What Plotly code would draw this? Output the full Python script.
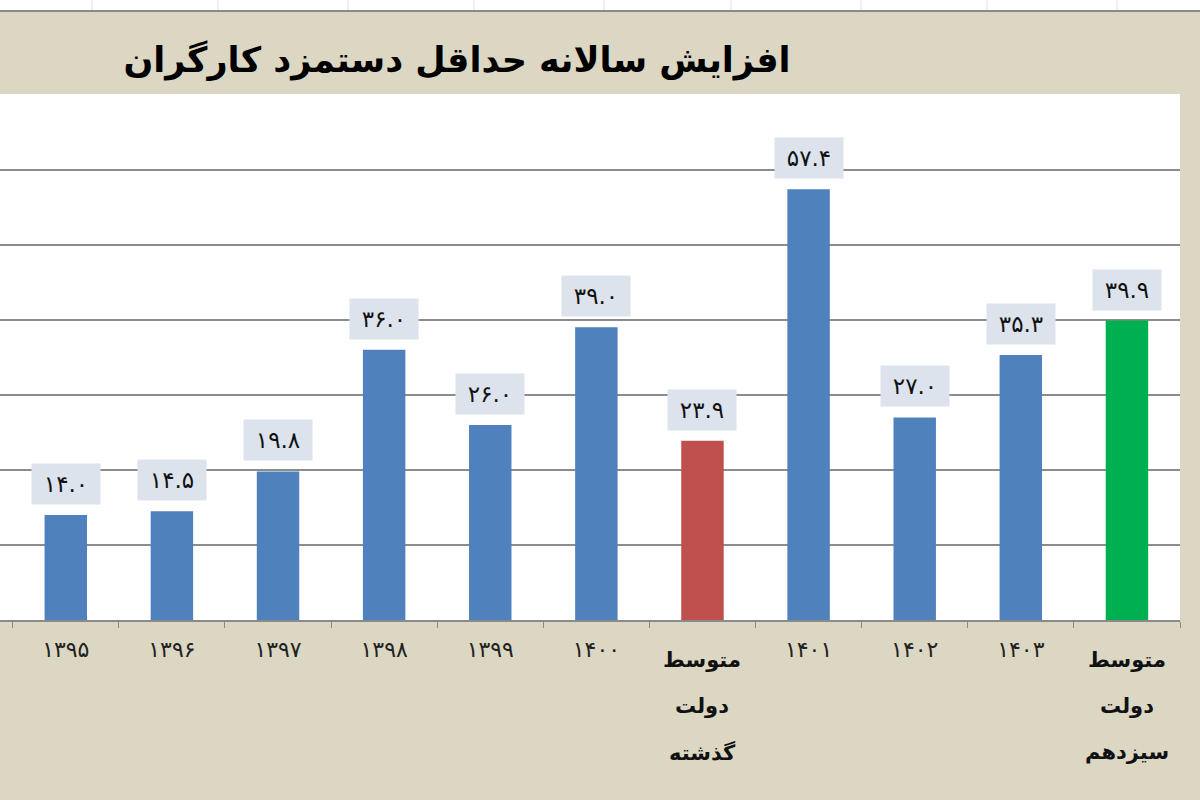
import plotly.graph_objs as go

# data
categories = ["۱۳۹۵", "۱۳۹۶", "۱۳۹۷", "۱۳۹۸", "۱۳۹۹", "۱۴۰۰", "avg_prev",
              "۱۴۰۱", "۱۴۰۲", "۱۴۰۳", "avg_13"]
tick_labels = ["۱۳۹۵", "۱۳۹۶", "۱۳۹۷", "۱۳۹۸", "۱۳۹۹", "۱۴۰۰", "",
               "۱۴۰۱", "۱۴۰۲", "۱۴۰۳", ""]
values = [14.0, 14.5, 19.8, 36.0, 26.0, 39.0, 23.9, 57.4, 27.0, 35.3, 39.9]
value_labels = ["۱۴.۰", "۱۴.۵", "۱۹.۸", "۳۶.۰", "۲۶.۰", "۳۹.۰", "۲۳.۹",
                "۵۷.۴", "۲۷.۰", "۳۵.۳", "۳۹.۹"]
avg_labels = {
    "avg_prev": ["متوسط", "دولت", "گذشته"],
    "avg_13": ["متوسط", "دولت", "سیزدهم"],
}
title_text = "افزایش سالانه حداقل دستمزد کارگران"

BLUE = "#4F81BD"
RED = "#C0504D"
GREEN = "#00B050"
BEIGE = "#DCD7C3"
colors = [BLUE] * 6 + [RED] + [BLUE] * 3 + [GREEN]

W, H = 1200, 800
M_L, M_R, M_T, M_B = 0, 20, 94, 180
plot_h = H - M_T - M_B


def py(pix):
    # pixel row -> paper y
    return (H - M_B - pix) / plot_h


fig = go.Figure(go.Bar(
    x=categories, y=values, marker=dict(color=colors, line=dict(width=0)),
    hoverinfo="skip",
))

# value labels in boxes
for c, v, t in zip(categories, values, value_labels):
    fig.add_annotation(
        x=c, y=v, text=t, showarrow=False, yanchor="bottom", yshift=10,
        width=66, height=38, bgcolor="#DCE3EC",
        font=dict(family="DejaVu Sans", size=23, color="#111111"),
    )

# multi-line category labels for averages
for c, lines in avg_labels.items():
    for i, line in enumerate(lines):
        fig.add_annotation(
            x=c, xref="x", y=py(660 + 46 * i), yref="paper", text=line,
            showarrow=False, yanchor="middle",
            font=dict(family="DejaVu Sans", size=21, color="#111111", weight="bold"),
        )

# top strip of the sheet
fig.add_shape(type="rect", xref="paper", yref="paper", x0=-0.01, x1=1.05,
              y0=py(10), y1=py(-5), fillcolor="white", line=dict(width=0), layer="below")
for xv in [92, 218, 348, 474, 604, 731, 861, 987, 1117]:
    fig.add_shape(type="line", xref="paper", yref="paper",
                  x0=(xv - M_L) / (W - M_L - M_R), x1=(xv - M_L) / (W - M_L - M_R),
                  y0=py(10), y1=py(0), line=dict(color="#E2E2E2", width=1))
fig.add_shape(type="line", xref="paper", yref="paper", x0=-0.01, x1=1.05,
              y0=py(11), y1=py(11), line=dict(color="#8A8A8A", width=2))

fig.update_layout(
    width=W, height=H,
    margin=dict(l=M_L, r=M_R, t=M_T, b=M_B),
    paper_bgcolor=BEIGE, plot_bgcolor="white",
    bargap=0.6, showlegend=False,
    title=dict(text="<b>" + title_text + "</b>", x=457 / W, xanchor="center",
               y=1 - 60 / H, yanchor="middle",
               font=dict(family="DejaVu Sans", size=35, color="black")),
    xaxis=dict(
        type="category", tickmode="array", tickvals=categories, ticktext=tick_labels,
        range=[-0.62, 10.5], ticks="outside", tickson="boundaries", ticklen=6,
        tickcolor="#8A8A8A", showline=True, linecolor="#8A8A8A", linewidth=2,
        tickfont=dict(family="DejaVu Sans", size=22, color="#222222"),
        ticklabelstandoff=9, showgrid=False,
    ),
    yaxis=dict(
        range=[0, 70.1], dtick=10, showgrid=True, gridcolor="#8C8C8C", gridwidth=1.5,
        showticklabels=False, zeroline=False, showline=False,
    ),
)

fig.write_html("out.html", config={"displayModeBar": False},
               post_script="document.body.style.margin='0';")
